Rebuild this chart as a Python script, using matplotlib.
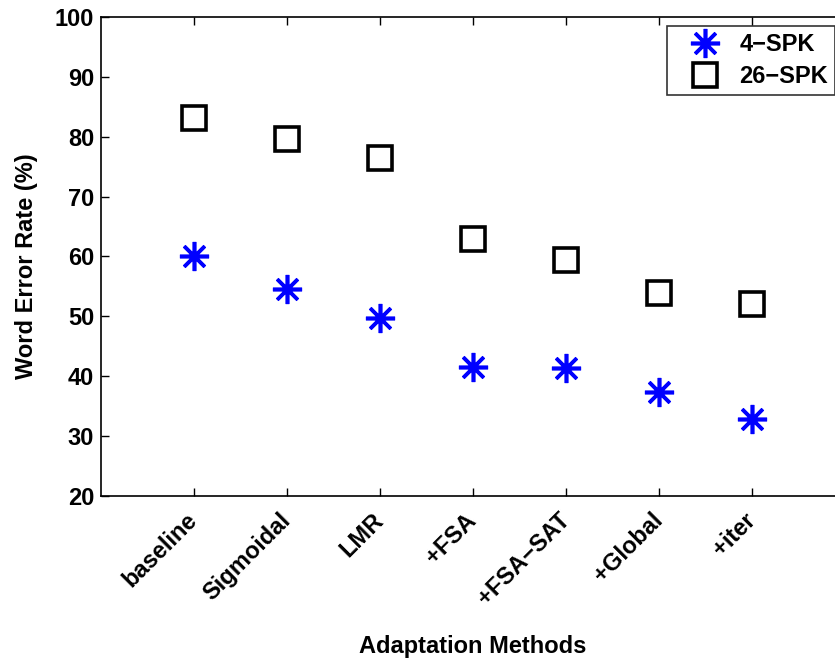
import matplotlib
matplotlib.use("Agg")
import matplotlib.pyplot as plt

methods = ["baseline", "Sigmoidal", "LMR", "+FSA", "+FSA\u2212SAT", "+Global", "+iter"]
wer_4spk = [60.0, 54.55, 49.8, 41.6, 41.35, 37.3, 32.85]
wer_26spk = [83.05, 79.6, 76.45, 62.9, 59.4, 53.95, 52.1]

plt.rcParams["font.family"] = ["Liberation Sans", "DejaVu Sans"]
plt.rcParams["font.weight"] = "bold"

fig = plt.figure(figsize=(8.35, 6.65), dpi=100)
# axes run past the right edge, like the cropped original
ax = fig.add_axes([101 / 835, 169 / 665, 744 / 835, 479 / 665])

x = list(range(1, len(methods) + 1))
ax.plot(x, wer_4spk, linestyle="none", marker=(8, 2, 0), markersize=21,
        markeredgewidth=2.6, color="#0000ff", label="4\u2212SPK")
ax.plot(x, wer_26spk, linestyle="none", marker="s", markersize=17,
        markeredgewidth=2.6, markerfacecolor="none", markeredgecolor="black",
        label="26\u2212SPK")

ax.set_xlim(0, 8)
ax.set_ylim(20, 100)
ax.set_xticks(x)
ax.set_xticklabels(methods, rotation=45, ha="right", va="center", rotation_mode="anchor",
                   fontsize=16)
ax.set_yticks(range(20, 101, 10))
ax.tick_params(direction="in", length=6, width=1, labelsize=17, top=True, right=True)
ax.tick_params(axis="y", pad=5)
ax.tick_params(axis="x", pad=15)
for s in ax.spines.values():
    s.set_linewidth(1.2)

ax.set_xlabel("Adaptation Methods", fontsize=17, fontweight="bold", labelpad=18)
ax.set_ylabel("Word Error Rate (%)", fontsize=17, fontweight="bold")
ax.yaxis.set_label_coords(-0.085, 0.48)

leg = ax.legend(loc="upper left", bbox_to_anchor=(0.761, 0.981), borderaxespad=0,
                fontsize=17, frameon=True, fancybox=False, handlelength=2.6,
                handletextpad=0.15, borderpad=0.3, labelspacing=0.38)
leg.get_frame().set_edgecolor("black")
leg.get_frame().set_linewidth(1.2)

fig.savefig("out.png", dpi=100)
